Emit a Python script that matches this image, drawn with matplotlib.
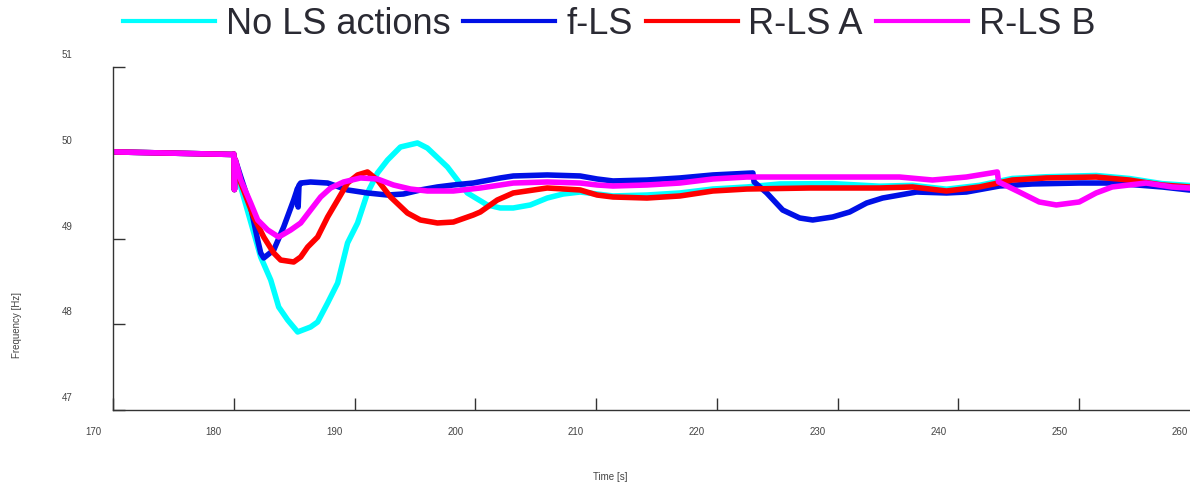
import matplotlib
matplotlib.use("Agg")
import matplotlib.pyplot as plt
from matplotlib.lines import Line2D
from matplotlib.transforms import ScaledTranslation

plt.rcParams['font.family'] = ['Liberation Sans', 'DejaVu Sans']

# values (time in s, frequency in Hz)
t_nols = [170.0, 175.0, 179.9, 180.0, 180.05, 180.12, 180.58, 182.23, 183.06, 183.72,
          184.46, 185.29, 186.36, 186.94, 187.77, 188.60, 189.42, 190.25, 191.07, 191.90,
          192.73, 193.80, 195.21, 196.03, 197.69, 199.34, 200.99, 202.07, 203.14, 204.55,
          205.95, 207.27, 208.68, 210.08, 211.40, 214.21, 216.94, 219.67, 222.48, 225.21,
          229.59, 233.47, 236.20, 239.01, 241.74, 244.46, 247.27, 251.40, 254.13, 256.86,
          260.0]
f_nols = [50.01, 49.995, 49.98, 49.985, 49.57, 49.92, 49.60, 48.784, 48.516, 48.201,
          48.05, 47.91, 47.968, 48.026, 48.248, 48.481, 48.948, 49.181, 49.531, 49.764,
          49.915, 50.067, 50.114, 50.055, 49.834, 49.531, 49.391, 49.356, 49.356, 49.391,
          49.472, 49.519, 49.542, 49.519, 49.496, 49.507, 49.531, 49.577, 49.601, 49.636,
          49.64, 49.61, 49.62, 49.575, 49.62, 49.70, 49.72, 49.735, 49.70, 49.64,
          49.61]

t_fls = [170.0, 175.0, 179.9, 180.0, 180.05, 180.12, 180.58, 181.40, 181.98, 182.23,
         182.48, 183.31, 184.13, 184.96, 185.29, 185.33, 185.40, 185.54, 186.36, 187.77,
         189.42, 191.07, 192.73, 194.05, 195.45, 196.86, 198.18, 199.83, 202.07, 203.14,
         205.95, 208.68, 210.08, 211.40, 214.21, 216.94, 219.67, 222.98, 223.08, 224.13,
         225.45, 226.86, 227.93, 229.59, 230.99, 232.40, 233.72, 236.53, 239.01, 240.66,
         243.39, 246.12, 250.0, 252.73, 256.86, 259.09, 260.0]
f_fls = [50.01, 49.995, 49.98, 49.985, 49.57, 49.92, 49.717, 49.367, 48.983, 48.831,
         48.773, 48.866, 49.134, 49.449, 49.589, 49.367, 49.62, 49.647, 49.659, 49.647,
         49.566, 49.531, 49.507, 49.519, 49.566, 49.601, 49.624, 49.647, 49.706, 49.729,
         49.741, 49.729, 49.694, 49.671, 49.682, 49.706, 49.741, 49.764, 49.66, 49.531,
         49.332, 49.239, 49.216, 49.251, 49.309, 49.414, 49.472, 49.542, 49.531, 49.542,
         49.612, 49.636, 49.647, 49.647, 49.601, 49.566, 49.56]

t_rlsa = [170.0, 175.0, 179.9, 180.0, 180.05, 180.12, 180.58, 181.65, 182.48, 183.31,
          183.88, 184.96, 185.54, 186.12, 186.94, 187.77, 188.60, 189.42, 190.25, 191.07,
          191.90, 192.98, 194.38, 195.45, 196.86, 198.18, 199.83, 200.41, 201.82, 203.14,
          205.95, 208.68, 210.08, 211.40, 214.21, 216.94, 219.67, 222.48, 227.69, 233.47,
          236.20, 239.01, 241.74, 244.46, 247.27, 251.40, 254.13, 256.86, 259.09, 260.0]
f_rlsa = [50.01, 49.995, 49.98, 49.985, 49.57, 49.92, 49.65, 49.251, 49.017, 48.831,
          48.749, 48.726, 48.784, 48.901, 49.017, 49.251, 49.449, 49.647, 49.741, 49.776,
          49.682, 49.484, 49.297, 49.216, 49.181, 49.192, 49.274, 49.309, 49.449, 49.531,
          49.589, 49.566, 49.507, 49.484, 49.472, 49.496, 49.554, 49.577, 49.589, 49.589,
          49.601, 49.554, 49.601, 49.682, 49.706, 49.717, 49.682, 49.624, 49.601, 49.59]

t_rlsb = [170.0, 175.0, 179.9, 180.0, 180.05, 180.12, 180.58, 181.40, 181.98, 182.81,
          183.72, 184.71, 185.54, 186.36, 187.19, 188.02, 189.09, 190.50, 191.90, 193.22,
          194.63, 196.03, 198.18, 200.41, 202.07, 203.14, 205.95, 208.68, 210.08, 211.40,
          214.21, 216.94, 219.67, 222.48, 229.59, 235.12, 237.85, 240.66, 243.22, 243.32,
          245.04, 246.69, 248.10, 250.0, 251.40, 252.73, 255.54, 257.69, 259.09, 260.0]
f_rlsb = [50.01, 49.995, 49.98, 49.985, 49.57, 49.92, 49.682, 49.414, 49.216, 49.099,
          49.017, 49.099, 49.181, 49.332, 49.484, 49.589, 49.659, 49.706, 49.694, 49.624,
          49.577, 49.554, 49.554, 49.589, 49.624, 49.647, 49.659, 49.647, 49.624, 49.612,
          49.624, 49.647, 49.694, 49.717, 49.717, 49.717, 49.682, 49.717, 49.776, 49.66,
          49.542, 49.426, 49.391, 49.426, 49.531, 49.601, 49.647, 49.601, 49.589, 49.585]

names = ["No LS actions", "f-LS", "R-LS A", "R-LS B"]
colors = ["#00ffff", "#0010e6", "#ff0000", "#ff00ff"]
x_ticks = [170, 180, 190, 200, 210, 220, 230, 240, 250, 260]
y_ticks = [47, 48, 49, 50, 51]

fig = plt.figure(figsize=(11.9, 4.87), dpi=100)
ax = fig.add_axes([113 / 1190, 77 / 487, 1087 / 1190, 343 / 487])

series = [(t_nols, f_nols), (t_fls, f_fls), (t_rlsa, f_rlsa), (t_rlsb, f_rlsb)]
for (t, f), c in zip(series, colors):
    ax.plot(t, f, color=c, lw=4, solid_joinstyle='round', solid_capstyle='round')

ax.set_xlim(170, 260)
ax.set_ylim(47, 51)
ax.set_xticks(x_ticks)
ax.set_yticks(y_ticks)
for s in ['top', 'right']:
    ax.spines[s].set_visible(False)
for s in ['left', 'bottom']:
    ax.spines[s].set_color('#333333')
    ax.spines[s].set_linewidth(1.0)
ax.tick_params(axis='both', direction='in', length=8.5, width=1.0, color='#333333',
               labelsize=7, labelcolor='#444444')
ax.tick_params(axis='x', pad=12)
ax.tick_params(axis='y', pad=29)

# labels in the reference sit off their ticks
for lbl in ax.get_xticklabels():
    lbl.set_transform(lbl.get_transform() + ScaledTranslation(-0.2, 0, fig.dpi_scale_trans))
for lbl in ax.get_yticklabels():
    lbl.set_transform(lbl.get_transform() + ScaledTranslation(0, 0.13, fig.dpi_scale_trans))

fig.text(17 / 1190, 1 - 325 / 487, "Frequency [Hz]", rotation=90, ha='center', va='center',
         fontsize=7, color='#444444')
fig.text(610 / 1190, 1 - 477 / 487, "Time [s]", ha='center', va='center',
         fontsize=7, color='#444444')

handles = [Line2D([], [], color=c, lw=3) for c in colors]
fig.legend(handles, names, loc='center', bbox_to_anchor=(609 / 1190, 1 - 24 / 487),
           ncol=4, frameon=False, fontsize=26, handlelength=2.55, handletextpad=0.3,
           columnspacing=0.36, labelcolor='#2a2a33')

fig.savefig("out.png", dpi=100)
